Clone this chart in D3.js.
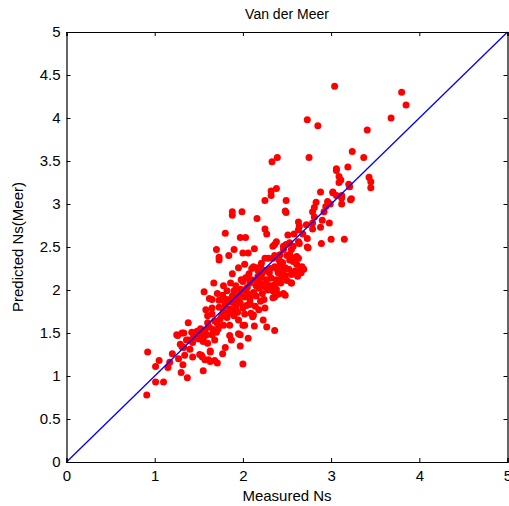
<!DOCTYPE html>
<html>
<head>
<meta charset="utf-8">
<script src="https://cdn.jsdelivr.net/npm/d3@7"></script>
<style>
  body { margin: 0; background: #fff; }
  svg text { font-family: "Liberation Sans", Arial, sans-serif; fill: #000; }
</style>
</head>
<body>
<svg id="chart" width="509" height="506"></svg>
<script>
// chart text
const title = "Van der Meer";
const xLabel = "Measured Ns";
const yLabel = "Predicted Ns(Meer)";

// tick values
const xTicks = [0, 1, 2, 3, 4, 5];
const yTicks = [0, 0.5, 1, 1.5, 2, 2.5, 3, 3.5, 4, 4.5, 5];

// reference line Predicted = Measured
const fitLine = [[0, 0], [5, 5]];

// [measured Ns, predicted Ns]
const samples = [
  [3.04,4.37],[3.80,4.30],[3.85,4.15],[3.68,4.00],[2.73,3.98],[2.85,3.91],[3.41,3.86],[3.24,3.61],[3.37,3.54],[3.19,3.43],
  [2.39,3.54],[2.33,3.49],[2.75,3.54],[3.06,3.41],[3.06,3.39],[3.09,3.32],[3.11,3.28],[3.09,3.25],[3.20,3.23],[3.21,3.20],
  [3.43,3.31],[3.45,3.26],[3.45,3.19],[3.02,3.14],[3.06,3.10],[3.12,3.10],[3.12,3.07],[3.12,3.00],[3.23,3.06],[2.99,3.00],
  [2.38,3.18],[2.32,3.15],[2.32,3.10],[2.25,3.04],[2.49,3.04],[2.48,2.92],[2.49,2.90],[2.88,3.14],[3.02,3.13],[3.22,3.05],
  [2.96,3.03],[2.83,3.02],[2.81,2.96],[2.94,2.97],[2.92,2.91],[2.79,2.91],[2.81,2.85],[1.99,2.91],[1.88,2.91],[1.88,2.87],
  [2.16,2.83],[2.79,2.78],[2.90,2.81],[2.98,2.78],[2.63,2.79],[2.64,2.74],[2.72,2.76],[2.88,2.73],[2.25,2.71],[2.27,2.65],
  [2.79,2.71],[2.63,2.70],[2.58,2.65],[2.51,2.64],[2.68,2.65],[1.97,2.61],[2.03,2.61],[1.80,2.66],[2.73,2.60],[3.00,2.59],
  [3.15,2.59],[2.63,2.56],[2.53,2.55],[2.89,2.54],[2.38,2.56],[2.34,2.51],[2.13,2.48],[2.46,2.51],[2.73,2.50],[2.46,2.47],
  [2.55,2.47],[2.00,2.43],[2.06,2.43],[2.53,2.41],[2.25,2.37],[2.34,2.37],[2.42,2.41],[2.41,2.35],[2.57,2.37],[2.63,2.37],
  [2.21,2.31],[2.45,2.32],[1.70,2.47],[1.90,2.47],[1.73,2.38],[1.84,2.40],[1.95,2.26],[2.02,2.30],[2.10,2.25],[2.36,2.53],
  [2.49,2.53],[2.57,2.51],[2.64,2.54],[2.74,2.49],[2.29,2.37],[2.36,2.40],[2.50,2.40],[2.53,2.35],[2.57,2.33],[2.61,2.30],
  [2.67,2.27],[2.12,2.27],[2.17,2.23],[2.20,2.27],[2.26,2.23],[2.31,2.25],[2.36,2.27],[2.42,2.29],[2.48,2.26],[2.52,2.24],
  [2.59,2.22],[2.66,2.20],[2.69,2.24],[1.98,2.12],[2.03,2.14],[2.10,2.12],[2.16,2.10],[2.21,2.15],[2.27,2.12],[2.32,2.14],
  [2.38,2.12],[2.43,2.08],[2.50,2.11],[2.55,2.08],[2.31,2.05],[2.24,2.04],[2.44,2.15],[2.36,2.06],[2.38,2.01],[2.00,2.00],
  [2.05,2.03],[2.12,1.97],[2.18,2.02],[2.22,1.96],[2.28,2.00],[2.34,1.99],[2.40,1.95],[2.46,1.96],[2.34,1.91],[2.24,1.89],
  [2.15,1.93],[2.48,1.94],[2.36,1.92],[1.97,1.85],[2.08,1.86],[2.14,1.81],[2.00,1.79],[2.18,1.77],[2.25,1.79],[2.02,1.72],
  [2.11,1.69],[2.12,1.71],[2.23,1.65],[2.13,1.58],[2.00,1.59],[2.27,1.57],[2.36,1.53],[1.97,1.48],[1.97,1.35],[2.00,1.14],
  [1.73,2.35],[2.15,2.26],[1.88,2.19],[2.07,2.19],[2.17,2.16],[1.67,2.08],[2.00,2.10],[2.08,2.08],[1.97,2.01],[1.90,1.99],
  [1.82,1.99],[1.56,1.98],[1.71,1.96],[1.77,1.94],[2.05,1.96],[1.65,1.89],[1.82,1.89],[1.86,1.86],[1.95,1.88],[2.08,1.90],
  [1.65,1.79],[1.73,1.80],[1.78,1.75],[1.89,1.77],[1.92,1.79],[2.08,1.83],[2.09,1.73],[1.65,1.72],[1.95,1.65],[2.02,1.59],
  [1.82,1.68],[1.71,1.61],[1.78,1.59],[1.85,1.59],[1.66,1.54],[1.72,1.55],[1.57,1.53],[1.52,1.55],[1.38,1.62],[1.33,1.50],
  [1.42,1.51],[1.26,1.47],[1.46,1.47],[1.51,1.48],[1.59,1.48],[1.65,1.48],[1.70,1.51],[1.68,1.42],[1.85,1.47],[1.87,1.42],
  [1.95,1.49],[2.06,1.44],[1.38,1.42],[1.43,1.39],[1.55,1.40],[1.60,1.38],[1.29,1.37],[1.33,1.33],[1.40,1.31],[1.63,1.29],
  [1.80,1.33],[1.20,1.26],[1.27,1.20],[1.34,1.24],[1.51,1.25],[1.54,1.22],[1.61,1.19],[1.68,1.18],[1.71,1.15],[1.77,1.26],
  [0.92,1.28],[1.05,1.18],[1.17,1.16],[1.01,1.11],[1.15,1.10],[1.32,1.13],[1.55,1.06],[1.30,1.04],[1.37,0.98],[1.01,0.93],
  [1.10,0.93],[0.91,0.78],[1.80,1.82],[1.85,1.78],[1.90,1.85],[1.93,1.92],[1.97,1.95],[2.02,1.92],[1.88,1.93],[1.84,1.73],
  [1.76,1.70],[1.60,1.62],[1.62,1.57],[1.48,1.52],[1.44,1.45],[1.50,1.43],[1.56,1.46],[1.74,1.66],[1.68,1.64],[1.90,1.70],
  [1.94,1.74],[2.04,1.82],[2.10,1.95],[1.73,1.88],[1.60,1.70],[1.79,1.87],[2.20,2.08],[2.26,2.08],[2.30,2.20],[2.22,2.20],
  [2.40,2.20],[2.45,2.22],[2.55,2.18],[2.62,2.16],[2.48,2.17],[2.38,2.25],[2.05,2.15],[2.15,2.05],[2.20,1.87],[1.92,2.05],
  [1.86,2.08],[1.78,2.05],[1.62,1.90],[1.58,1.77],[2.61,2.39],[2.65,2.24],[2.55,2.08],[2.44,2.15],[1.25,1.48],[1.31,1.50],
  [1.44,1.50],[1.31,1.34],[1.36,1.42],[1.43,1.22],[1.53,1.24],[1.57,1.19],[1.63,1.17],[1.63,1.28]
];

const svg = d3.select("#chart");
const margin = {left: 66.5, top: 32, right: 1.5, bottom: 44};
const W = 509, H = 506;

const x = d3.scaleLinear().domain([0, 5]).range([margin.left, W - margin.right]);
const y = d3.scaleLinear().domain([0, 5]).range([H - margin.bottom, margin.top]);

// data first, box drawn on top
svg.append("g")
  .selectAll("circle")
  .data(samples)
  .join("circle")
    .attr("cx", d => x(d[0]))
    .attr("cy", d => y(d[1]))
    .attr("r", 3.5)
    .attr("fill", "#ff0000");

svg.append("path")
  .datum(fitLine)
  .attr("d", d3.line().x(d => x(d[0])).y(d => y(d[1])))
  .attr("stroke", "#0000ff")
  .attr("stroke-width", 1.3)
  .attr("fill", "none");

// matlab style axes: ticks inside, box on
const tickLen = 4;
const fontSize = 15;

const axBottom = svg.append("g").attr("transform", `translate(0,${y(0)})`)
  .call(d3.axisBottom(x).tickValues(xTicks).tickSize(-tickLen).tickPadding(8).tickFormat(d3.format("")));
const axLeft = svg.append("g").attr("transform", `translate(${x(0)},0)`)
  .call(d3.axisLeft(y).tickValues(yTicks).tickSize(-tickLen).tickPadding(6).tickFormat(d3.format("")));
const axTop = svg.append("g").attr("transform", `translate(0,${y(5)})`)
  .call(d3.axisTop(x).tickValues(xTicks).tickSize(-tickLen).tickFormat(""));
const axRight = svg.append("g").attr("transform", `translate(${x(5)},0)`)
  .call(d3.axisRight(y).tickValues(yTicks).tickSize(-tickLen).tickFormat(""));

[axBottom, axLeft, axTop, axRight].forEach(g => {
  g.select(".domain").attr("stroke", "#000").attr("stroke-width", 1.2);
  g.selectAll(".tick line").attr("stroke", "#000");
  g.selectAll("text").style("font-size", fontSize + "px").attr("fill", "#000");
});

svg.append("text")
  .attr("x", (x(0) + x(5)) / 2)
  .attr("y", 19)
  .attr("text-anchor", "middle")
  .style("font-size", "14px")
  .text(title);

svg.append("text")
  .attr("x", (x(0) + x(5)) / 2)
  .attr("y", 501)
  .attr("text-anchor", "middle")
  .style("font-size", "15px")
  .text(xLabel);

svg.append("text")
  .attr("transform", `translate(23,${(y(0) + y(5)) / 2}) rotate(-90)`)
  .attr("text-anchor", "middle")
  .style("font-size", "15px")
  .text(yLabel);
</script>
</body>
</html>
